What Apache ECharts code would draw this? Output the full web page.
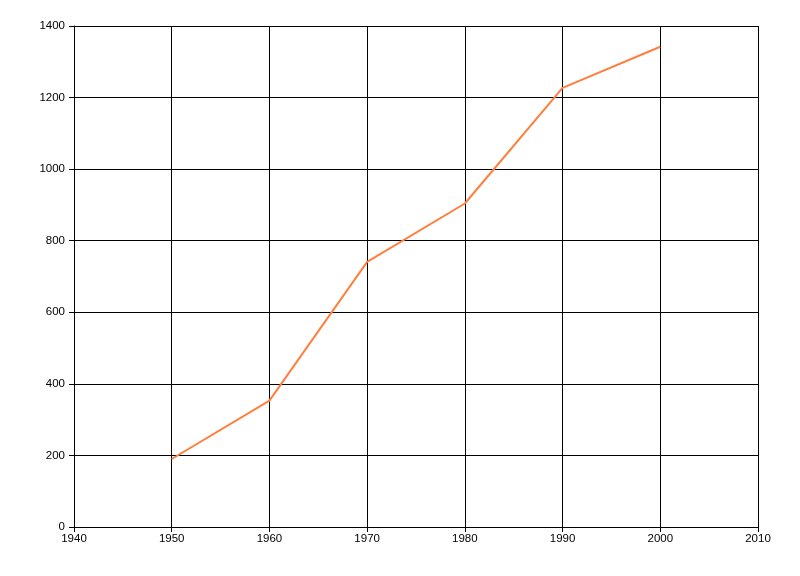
<!DOCTYPE html>
<html><head><meta charset="utf-8">
<script src="https://cdn.jsdelivr.net/npm/echarts@6/dist/echarts.min.js"></script>
<style>html,body{margin:0;padding:0;background:#fff}#c{width:800px;height:576px}</style>
</head><body><div id="c"></div>
<script>
const years = [1950, 1960, 1970, 1980, 1990, 2000];
const values = [190, 353, 741, 904, 1227, 1342];
const xTicks = [1940, 2010, 10];
const yTicks = [0, 1400, 200];

const chart = echarts.init(document.getElementById('c'), null, {renderer: 'canvas'});
const lab = {color: '#000', fontFamily: 'Liberation Sans, Arial, sans-serif', fontSize: 11.5};
chart.setOption({
  animation: false,
  backgroundColor: '#fff',
  grid: {left: 74, right: 42, top: 26, bottom: 49, containLabel: false},
  xAxis: {
    type: 'value', min: xTicks[0], max: xTicks[1], interval: xTicks[2],
    axisLine: {show: true, lineStyle: {color: '#000', width: 1}},
    axisTick: {show: true, length: 5, lineStyle: {color: '#000'}},
    axisLabel: Object.assign({margin: 6, formatter: v => String(v)}, lab),
    splitLine: {show: true, lineStyle: {color: '#000', width: 1}}
  },
  yAxis: {
    type: 'value', min: yTicks[0], max: yTicks[1], interval: yTicks[2],
    axisLine: {show: true, lineStyle: {color: '#000', width: 1}},
    axisTick: {show: true, length: 5, lineStyle: {color: '#000'}},
    axisLabel: Object.assign({margin: 9, formatter: v => String(v)}, lab),
    splitLine: {show: true, lineStyle: {color: '#000', width: 1}}
  },
  series: [{
    type: 'line',
    data: years.map((y, i) => [y, values[i]]),
    symbol: 'none',
    lineStyle: {color: '#FF7F3F', width: 2},
    itemStyle: {color: '#FF7F3F'}
  }]
});
</script></body></html>
